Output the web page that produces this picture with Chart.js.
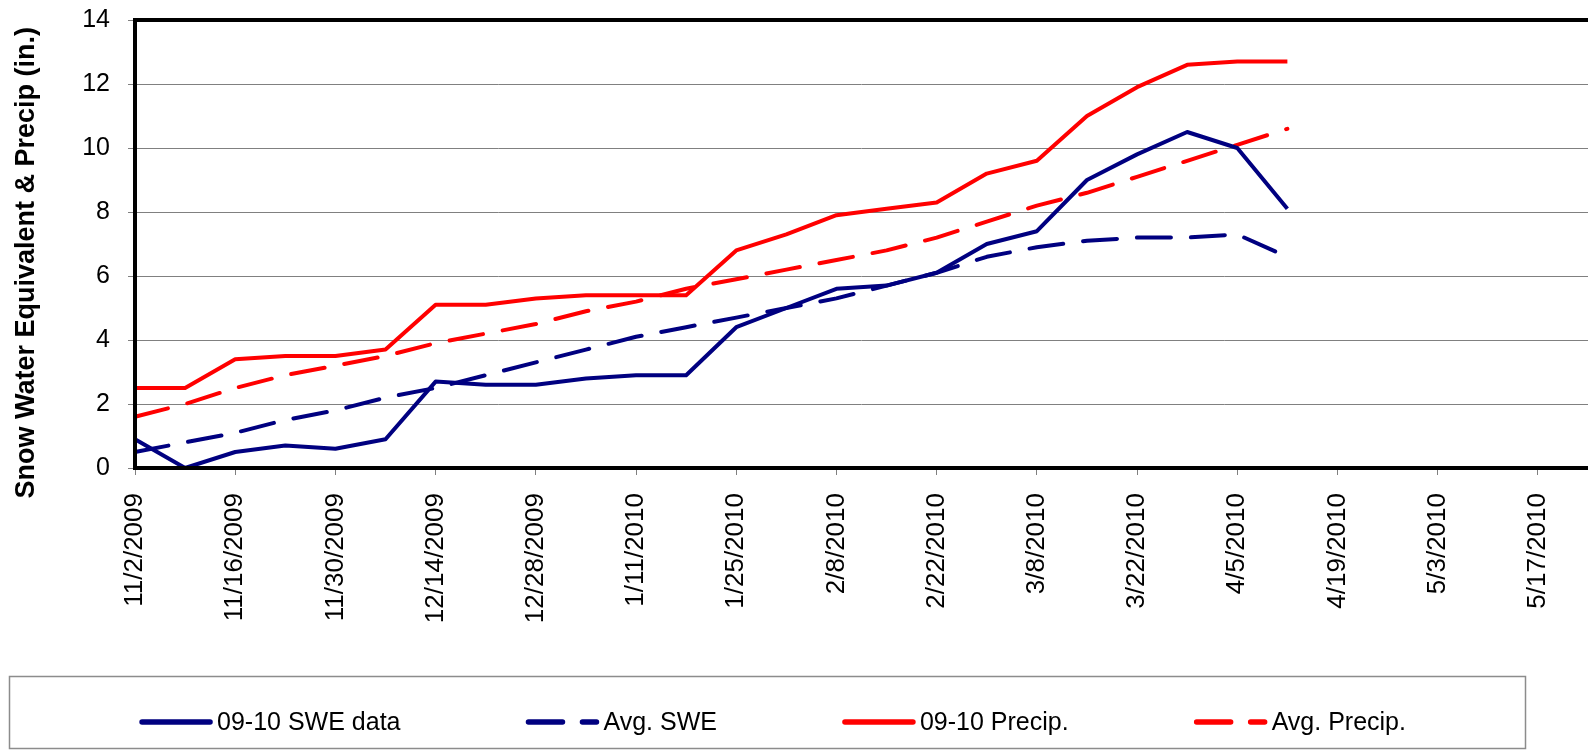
<!DOCTYPE html>
<html>
<head>
<meta charset="utf-8">
<script src="https://cdn.jsdelivr.net/npm/chart.js@4.4.1/dist/chart.umd.min.js"></script>
<style>
    body { margin: 0; background: #fff; }
    #wrap { position: relative; width: 1588px; height: 750px; }
</style>
</head>
<body>
<div id="wrap"><canvas id="chart1"></canvas></div>
<script>
// weekly dates on the x axis (labels shown every other week)
var weeks = ['11/2/2009', '11/9/2009', '11/16/2009', '11/23/2009', '11/30/2009', '12/7/2009',
    '12/14/2009', '12/21/2009', '12/28/2009', '1/4/2010', '1/11/2010', '1/18/2010',
    '1/25/2010', '2/1/2010', '2/8/2010', '2/15/2010', '2/22/2010', '3/1/2010',
    '3/8/2010', '3/15/2010', '3/22/2010', '3/29/2010', '4/5/2010', '4/12/2010',
    '4/19/2010', '4/26/2010', '5/3/2010', '5/10/2010', '5/17/2010', '5/24/2010'];

var sweData = [0.9, 0.0, 0.5, 0.7, 0.6, 0.9, 2.7, 2.6, 2.6, 2.8, 2.9, 2.9,
    4.4, 5.0, 5.6, 5.7, 6.1, 7.0, 7.4, 9.0, 9.8, 10.5, 10.0, 8.1];
var avgSwe = [0.5, 0.8, 1.1, 1.5, 1.8, 2.2, 2.5, 2.9, 3.3, 3.7, 4.1, 4.4,
    4.7, 5.0, 5.3, 5.7, 6.1, 6.6, 6.9, 7.1, 7.2, 7.2, 7.3, 6.6];
var precip = [2.5, 2.5, 3.4, 3.5, 3.5, 3.7, 5.1, 5.1, 5.3, 5.4, 5.4, 5.4,
    6.8, 7.3, 7.9, 8.1, 8.3, 9.2, 9.6, 11.0, 11.9, 12.6, 12.7, 12.7];
var avgPrecip = [1.6, 2.0, 2.5, 2.9, 3.2, 3.5, 3.9, 4.2, 4.5, 4.9, 5.2, 5.6,
    5.9, 6.2, 6.5, 6.8, 7.2, 7.7, 8.2, 8.6, 9.1, 9.6, 10.1, 10.6];

var yMin = 0, yMax = 14, yStep = 2;

var FONT = '"Liberation Sans", Arial, sans-serif';
var NAVY = '#000080';
var RED = '#ff0000';
var DASH = [34, 20];

// thick black frame around the plot (top, left, bottom)
var frame = {
    id: 'frame',
    afterDatasetsDraw: function(chart) {
        var a = chart.chartArea, c = chart.ctx;
        c.save();
        c.strokeStyle = '#000';
        c.lineWidth = 4;
        c.beginPath();
        c.moveTo(a.right + 4, a.top);
        c.lineTo(a.left, a.top);
        c.lineTo(a.left, a.bottom);
        c.lineTo(a.right + 4, a.bottom);
        c.stroke();
        c.restore();
    }
};

// boxed legend below the axis labels
var legendBox = {
    id: 'legendBox',
    afterDraw: function(chart) {
        var c = chart.ctx;
        var sets = chart.data.datasets;
        c.save();
        c.strokeStyle = '#8c8c8c';
        c.lineWidth = 1.5;
        c.strokeRect(9.5, 676.5, 1516, 72);
        c.font = '25px ' + FONT;
        var widths = sets.map(function(ds) { return 77 + c.measureText(ds.label).width; });
        var gap = 126;
        var total = gap * (sets.length - 1);
        widths.forEach(function(w) { total += w; });
        var x = 773 - total / 2, y = 722;
        sets.forEach(function(ds, i) {
            c.strokeStyle = ds.borderColor;
            c.lineWidth = 5.5;
            c.lineCap = 'round';
            c.setLineDash(ds.borderDash || []);
            c.beginPath();
            c.moveTo(x + 2, y);
            c.lineTo(x + 70, y);
            c.stroke();
            c.setLineDash([]);
            c.fillStyle = '#000';
            c.textBaseline = 'middle';
            c.textAlign = 'left';
            c.fillText(ds.label, x + 77, y + 1);
            x += widths[i] + gap;
        });
        c.restore();
    }
};

var ctx = document.getElementById('chart1').getContext('2d');
var myChart = new Chart(ctx, {
    type: 'line',
    data: {
        labels: weeks,
        datasets: [{
            label: '09-10 SWE data',
            data: sweData,
            borderColor: NAVY,
            backgroundColor: NAVY,
            borderWidth: 4,
            borderJoinStyle: 'round',
            pointRadius: 0,
            tension: 0
        },
        {
            label: 'Avg. SWE',
            data: avgSwe,
            borderColor: NAVY,
            backgroundColor: NAVY,
            borderWidth: 4,
            borderDash: DASH,
            borderCapStyle: 'round',
            borderJoinStyle: 'round',
            pointRadius: 0,
            tension: 0
        },
        {
            label: '09-10 Precip.',
            data: precip,
            borderColor: RED,
            backgroundColor: RED,
            borderWidth: 4,
            borderJoinStyle: 'round',
            pointRadius: 0,
            tension: 0
        },
        {
            label: 'Avg. Precip.',
            data: avgPrecip,
            borderColor: RED,
            backgroundColor: RED,
            borderWidth: 4,
            borderDash: DASH,
            borderCapStyle: 'round',
            borderJoinStyle: 'round',
            pointRadius: 0,
            tension: 0
        }]
    },
    options: {
        responsive: true,
        maintainAspectRatio: false,
        animation: false,
        layout: {
            padding: { top: 20, left: 0, right: 0, bottom: 0 }
        },
        plugins: {
            legend: { display: false },
            tooltip: { enabled: false }
        },
        scales: {
            x: {
                ticks: {
                    autoSkip: false,
                    maxRotation: 90,
                    minRotation: 90,
                    padding: 18,
                    color: '#000',
                    font: { family: FONT, size: 26 },
                    callback: function(value, index) {
                        return index % 2 === 0 ? weeks[index] : '';
                    }
                },
                grid: {
                    drawOnChartArea: false,
                    drawTicks: true,
                    tickLength: 7,
                    tickColor: function(c) {
                        return c.index % 2 === 0 ? '#808080' : 'rgba(0,0,0,0)';
                    }
                },
                border: { display: false },
                afterFit: function(scale) {
                    scale.paddingLeft = 0;
                    scale.paddingRight = 0;
                    scale.height = 282;
                }
            },
            y: {
                min: yMin,
                max: yMax,
                ticks: {
                    stepSize: yStep,
                    padding: 18,
                    color: '#000',
                    font: { family: FONT, size: 25 }
                },
                grid: {
                    color: '#808080',
                    lineWidth: 1,
                    tickLength: 7,
                    tickColor: '#808080'
                },
                border: { display: false },
                title: {
                    display: true,
                    // trailing spaces nudge the centred title down a little
                    text: 'Snow Water Equivalent & Precip (in.)     ',
                    color: '#000',
                    font: { family: FONT, size: 27, weight: 'bold' },
                    padding: { top: 10, bottom: 0 }
                },
                afterFit: function(scale) {
                    scale.paddingTop = 0;
                    scale.paddingBottom = 0;
                    scale.width = 135;
                }
            }
        }
    },
    plugins: [frame, legendBox]
});
</script>
</body>
</html>
